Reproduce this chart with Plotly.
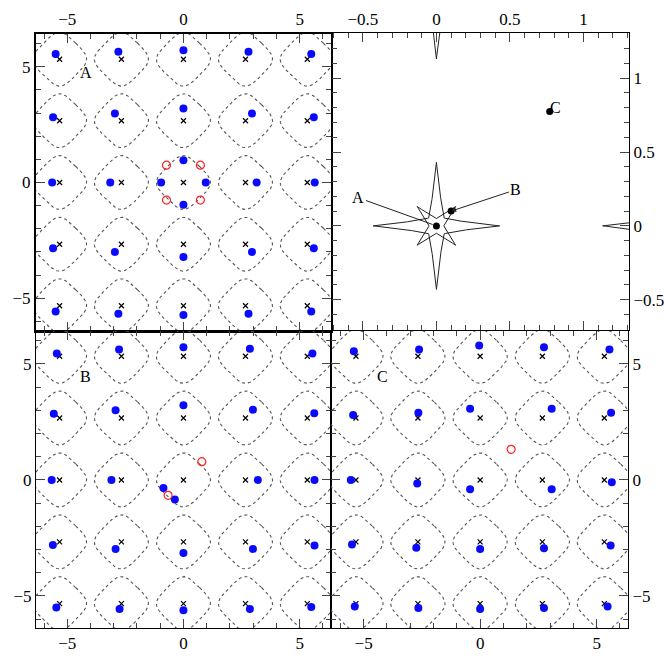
import numpy as np
import plotly.graph_objects as go

# ---------------- data ----------------
lattice = [-5.33, -2.67, 0.0, 2.67, 5.33]          # lens grid coordinates

# panel A images (source A)
A_img_x = [-5.50, -2.80, 0.00, 2.80, 5.50,
           -5.61, -2.95, 0.00, 2.95, 5.61,
           -5.65, -3.15, 3.15, 5.65, 0.00, 0.00, -0.96, 0.96,
           -5.61, -2.95, 0.00, 2.95, 5.61,
           -5.50, -2.80, 0.00, 2.80, 5.50]
A_img_y = [5.55, 5.65, 5.72, 5.65, 5.55,
           2.82, 2.98, 3.20, 2.98, 2.82,
           0.00, 0.00, 0.00, 0.00, 0.96, -0.96, 0.00, 0.00,
           -2.84, -3.00, -3.22, -3.00, -2.84,
           -5.58, -5.67, -5.73, -5.67, -5.58]
A_sad_x = [-0.73, 0.73, -0.73, 0.73]
A_sad_y = [0.75, 0.75, -0.76, -0.76]

# panel B images (source B)
B_img_x = [-5.45, -2.77, 0.00, 2.86, 5.55,
           -5.58, -2.92, 0.00, 2.99, 5.63,
           -5.67, -3.10, 3.20, 5.64, -0.86, -0.37,
           -5.62, -2.92, 0.00, 2.99, 5.64,
           -5.47, -2.75, 0.00, 2.86, 5.50]
B_img_y = [5.45, 5.62, 5.72, 5.65, 5.45,
           2.85, 3.00, 3.22, 3.03, 2.87,
           0.00, 0.00, 0.00, 0.00, -0.35, -0.84,
           -2.80, -2.97, -3.15, -2.97, -2.82,
           -5.50, -5.56, -5.62, -5.56, -5.47]
B_sad_x = [-0.66, 0.79]
B_sad_y = [-0.66, 0.79]

# panel C images (source C)
C_img_x = [-5.42, -2.62, -0.04, 2.74, 5.55,
           -5.45, -2.65, -0.43, 3.07, 5.62,
           -5.55, -2.70, -0.43, 3.07, 5.65,
           -5.50, -2.74, 0.00, 2.74, 5.60,
           -5.38, -2.65, 0.00, 2.74, 5.47]
C_img_y = [5.55, 5.62, 5.80, 5.72, 5.62,
           2.80, 2.90, 3.07, 3.07, 2.90,
           0.00, -0.15, -0.40, -0.40, -0.10,
           -2.78, -2.92, -2.98, -2.94, -2.82,
           -5.45, -5.52, -5.56, -5.52, -5.45]
C_sad_x = [1.33]
C_sad_y = [1.32]

# source plane
star_cx = [0.0, 1.56, 0.0, 1.56]
star_cy = [0.0, 0.0, 1.56, 1.56]
src_names = ["A", "B", "C"]
src_x = [0.0, 0.10, 0.77]
src_y = [0.0, 0.10, 0.775]
lab_x = [-0.53, 0.54, 0.81]
lab_y = [0.19, 0.245, 0.80]

# ---------------- helpers ----------------
def spow(c, p):
    return np.sign(c) * np.abs(c) ** p

t = np.linspace(0, 2 * np.pi, 721)
s_par = np.linspace(0, 1, 40)

def crit_curve(cx, cy, s=0.98, n=4.0):
    u = s * spow(np.cos(t), 2.0 / n)
    v = s * spow(np.sin(t), 2.0 / n)
    return cx + (u - v) / np.sqrt(2), cy + (u + v) / np.sqrt(2)

def concave_star(cx, cy, r_tip, r_in, ang0, ctrl_r, ctrl_off):
    """closed star: 4 tips at ang0+k*90deg, inner points between them;
    edges are quadratic Bezier curves bent toward the centre."""
    pts = []
    for k in range(8):
        ang = np.deg2rad(ang0 + 45 * k)
        r = r_tip if k % 2 == 0 else r_in
        pts.append((r * np.cos(ang), r * np.sin(ang), ang))
    xs, ys = [], []
    for k in range(8):
        x0, y0, a0 = pts[k]
        x1, y1, a1 = pts[(k + 1) % 8]
        if k % 2 == 0:
            at, sgn = a0, 1
        else:
            at, sgn = a1, -1
        nx, ny = -np.sin(at), np.cos(at)
        c_x = ctrl_r * np.cos(at) + sgn * ctrl_off * nx
        c_y = ctrl_r * np.sin(at) + sgn * ctrl_off * ny
        bx = (1 - s_par) ** 2 * x0 + 2 * s_par * (1 - s_par) * c_x + s_par ** 2 * x1
        by = (1 - s_par) ** 2 * y0 + 2 * s_par * (1 - s_par) * c_y + s_par ** 2 * y1
        xs += list(cx + bx)
        ys += list(cy + by)
    return xs + [None], ys + [None]

fig = go.Figure()

serif = "Liberation Serif"
panels = [("x", "y", A_img_x, A_img_y, A_sad_x, A_sad_y),
          ("x3", "y3", B_img_x, B_img_y, B_sad_x, B_sad_y),
          ("x4", "y4", C_img_x, C_img_y, C_sad_x, C_sad_y)]

for xa, ya, ix, iy, sx, sy in panels:
    cxs, cys = [], []
    for gx in lattice:
        for gy in lattice:
            cx, cy = crit_curve(gx, gy)
            cxs += list(cx) + [None]
            cys += list(cy) + [None]
    fig.add_trace(go.Scatter(x=cxs, y=cys, mode="lines", xaxis=xa, yaxis=ya,
                             line=dict(color="#555", width=1.1, dash="dot"),
                             hoverinfo="skip", showlegend=False))
    lx = [gx for gy in lattice for gx in lattice]
    ly = [gy for gy in lattice for gx in lattice]
    fig.add_trace(go.Scatter(x=lx, y=ly, mode="markers", xaxis=xa, yaxis=ya,
                             marker=dict(symbol="x-thin", size=5,
                                         line=dict(color="black", width=1.2)),
                             showlegend=False))
    fig.add_trace(go.Scatter(x=ix, y=iy, mode="markers", xaxis=xa, yaxis=ya,
                             marker=dict(symbol="circle", size=8, color="#0a0aff"),
                             showlegend=False))
    fig.add_trace(go.Scatter(x=sx, y=sy, mode="markers", xaxis=xa, yaxis=ya,
                             marker=dict(symbol="circle-open", size=8, color="#ff2020",
                                         line=dict(color="#ff2020", width=1.2)),
                             showlegend=False))

# source plane caustics
sxs, sys_ = [], []
for cx, cy in zip(star_cx, star_cy):
    a, b = concave_star(cx, cy, 0.43, 0.075, 90, 0.18, 0.025)
    sxs += a
    sys_ += b
    a, b = concave_star(cx, cy, 0.185, 0.05, 45, 0.09, 0.02)
    sxs += a
    sys_ += b
fig.add_trace(go.Scatter(x=sxs, y=sys_, mode="lines", xaxis="x2", yaxis="y2",
                         line=dict(color="#222", width=1), hoverinfo="skip",
                         showlegend=False))
fig.add_trace(go.Scatter(x=src_x, y=src_y, mode="markers", xaxis="x2", yaxis="y2",
                         marker=dict(symbol="circle", size=7, color="black"),
                         showlegend=False))

# ---------------- annotations ----------------
ann = []
ann.append(dict(x=src_x[0], y=src_y[0], ax=lab_x[0], ay=lab_y[0], xref="x2", yref="y2",
                axref="x2", ayref="y2", text="A", showarrow=True, arrowhead=0,
                arrowwidth=1, arrowcolor="#222", standoff=4,
                font=dict(family=serif, size=16, color="black")))
ann.append(dict(x=src_x[1], y=src_y[1], ax=lab_x[1], ay=lab_y[1], xref="x2", yref="y2",
                axref="x2", ayref="y2", text="B", showarrow=True, arrowhead=2,
                arrowsize=1, arrowwidth=1, arrowcolor="#222", standoff=0,
                font=dict(family=serif, size=16, color="black")))
ann.append(dict(x=lab_x[2], y=lab_y[2], xref="x2", yref="y2", text="C", showarrow=False,
                font=dict(family=serif, size=16, color="black")))
ann.append(dict(x=-4.2, y=4.75, xref="x", yref="y", text="A", showarrow=False,
                font=dict(family=serif, size=16, color="black")))
ann.append(dict(x=-4.2, y=4.45, xref="x3", yref="y3", text="B", showarrow=False,
                font=dict(family=serif, size=16, color="black")))
ann.append(dict(x=-4.2, y=4.45, xref="x4", yref="y4", text="C", showarrow=False,
                font=dict(family=serif, size=16, color="black")))

# ---------------- axes ----------------
def ax(domain, rng, side, anchor, dtick, minor_dtick, lw=1):
    return dict(domain=domain, range=rng, side=side, anchor=anchor,
                dtick=dtick, tick0=0, showgrid=False, zeroline=False,
                ticks="inside", ticklen=9, tickwidth=1, tickcolor="#444",
                showline=True, linecolor="black", linewidth=lw, mirror="allticks",
                minor=dict(ticks="inside", ticklen=5, dtick=minor_dtick,
                           tickcolor="#444", tickwidth=1),
                tickfont=dict(family=serif, size=17, color="black"),
                fixedrange=True)

xA = [36 / 664, 332 / 664]
xR = [333 / 664, 631 / 664]
yT = [1 - 331 / 664, 1 - 34 / 664]
yB = [1 - 628 / 664, 1 - 331 / 664]

fig.update_layout(
    width=664, height=664,
    margin=dict(l=0, r=0, t=0, b=0),
    paper_bgcolor="white", plot_bgcolor="white",
    xaxis=ax(xA, [-6.35, 6.35], "top", "y", 5, 1, 2),
    yaxis=ax(yT, [-6.42, 6.42], "left", "x", 5, 1, 2),
    xaxis2=ax(xR, [-0.71, 1.31], "top", "y2", 0.5, 0.1),
    yaxis2=ax([1 - 330 / 664, 1 - 33 / 664], [-0.705, 1.306], "right", "x2", 0.5, 0.1),
    xaxis3=ax(xA, [-6.35, 6.35], "bottom", "y3", 5, 1),
    yaxis3=ax(yB, [-6.38, 6.42], "left", "x3", 5, 1),
    xaxis4=ax([332 / 664, 630 / 664], [-6.4, 6.35], "bottom", "y4", 5, 1),
    yaxis4=ax(yB, [-6.38, 6.42], "right", "x4", 5, 1),
    annotations=ann,
)

fig.write_html(
    "out.html", config={"displayModeBar": False},
    post_script=("document.body.style.margin='0';"
                 "var gd=document.getElementById('{plot_id}');"
                 "gd.parentElement.style.overflow='hidden';"
                 "gd.parentElement.style.width='664px';"
                 "gd.parentElement.style.height='664px';"))
